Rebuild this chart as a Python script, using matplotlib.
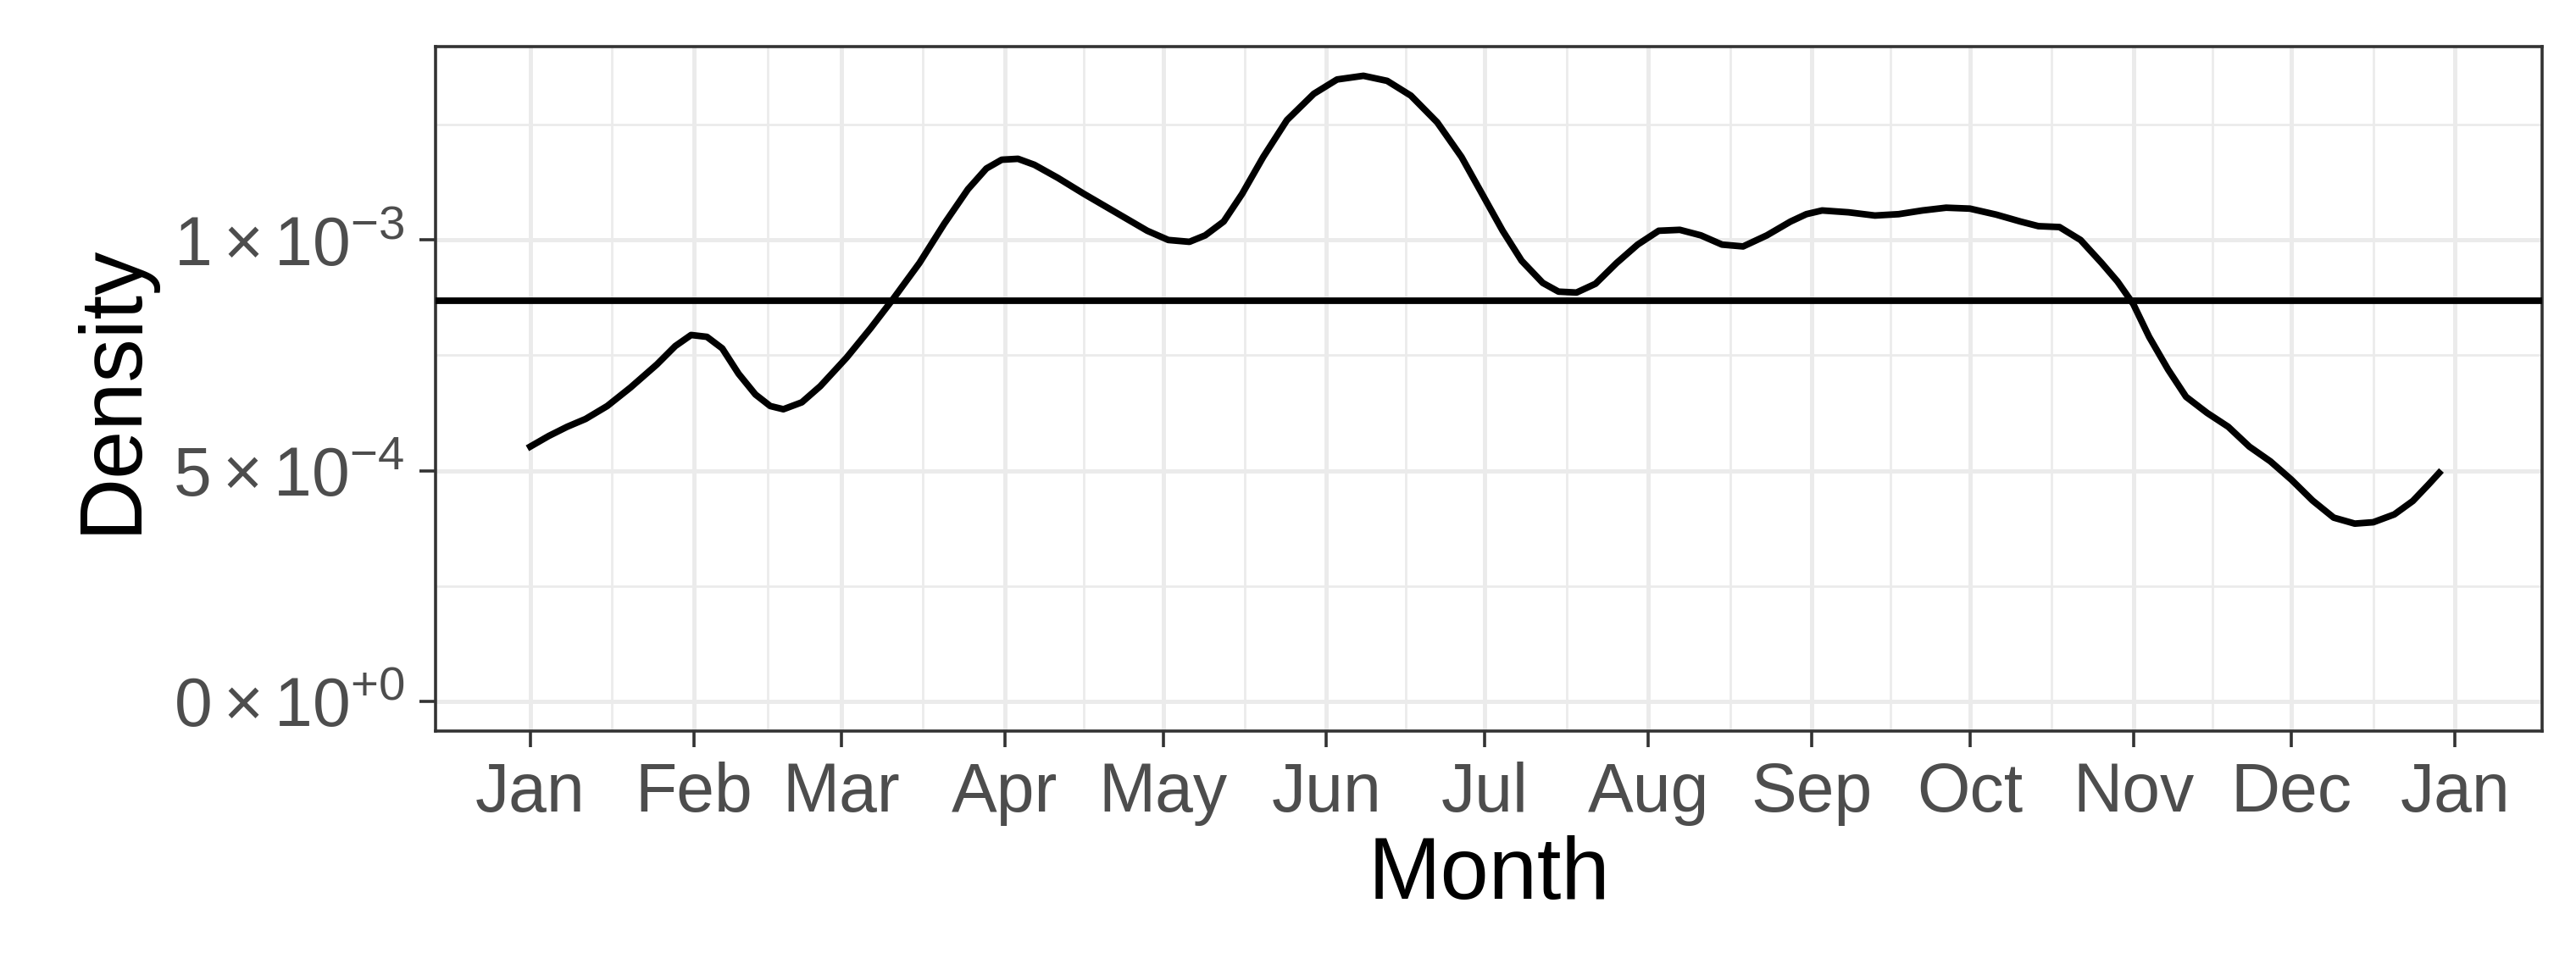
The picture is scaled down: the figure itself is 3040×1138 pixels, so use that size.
import numpy as np
import matplotlib.pyplot as plt

plt.rcParams['font.family'] = ['Liberation Sans', 'DejaVu Sans']
plt.rcParams['mathtext.fontset'] = 'custom'
plt.rcParams['mathtext.rm'] = 'Liberation Sans'
plt.rcParams['mathtext.it'] = 'Liberation Sans'

# month starts (day of year) and labels
month_days = [0, 31, 59, 90, 120, 151, 181, 212, 243, 273, 304, 334, 365]
month_labels = ['Jan', 'Feb', 'Mar', 'Apr', 'May', 'Jun', 'Jul', 'Aug', 'Sep',
                'Oct', 'Nov', 'Dec', 'Jan']

# density curve (day of year, density in 1e-3)
day = [0, 3.5, 7, 10.5, 14.6, 19, 24, 27.5, 30.5, 33.5, 36.4, 39.5, 42.7, 45.5,
       48, 51.5, 55, 60, 64.5, 69, 73.8, 78.5, 83, 86.5, 89.4, 92.5, 95.6, 100,
       105, 111, 117, 121, 125, 128, 131.5, 135, 139, 143.5, 148.6, 153, 158,
       162.5, 167, 172, 176.6, 180.5, 184.4, 188, 192, 195, 198.4, 202, 206,
       210, 214, 218, 222, 226, 230, 234.5, 239, 242, 245, 250, 255, 259.5, 264,
       268.5, 273, 278, 282.6, 286, 290, 294, 298, 301, 304, 307, 310.6, 314,
       318, 322, 326, 330, 334, 338, 342, 346, 349.5, 353.5, 357, 360, 362]
dens = [0.552, 0.575, 0.595, 0.612, 0.64, 0.68, 0.73, 0.77, 0.794, 0.79, 0.765,
        0.71, 0.665, 0.64, 0.633, 0.648, 0.683, 0.745, 0.808, 0.875, 0.95, 1.035,
        1.11, 1.155, 1.174, 1.176, 1.163, 1.135, 1.10, 1.06, 1.02, 1.0, 0.996,
        1.01, 1.04, 1.1, 1.18, 1.26, 1.317, 1.348, 1.356, 1.345, 1.313, 1.255,
        1.18, 1.10, 1.02, 0.955, 0.907, 0.888, 0.886, 0.905, 0.95, 0.99, 1.02,
        1.022, 1.01, 0.99, 0.986, 1.01, 1.04, 1.056, 1.064, 1.06, 1.053, 1.056,
        1.064, 1.07, 1.068, 1.055, 1.04, 1.03, 1.028, 1.0, 0.95, 0.91, 0.861,
        0.79, 0.719, 0.66, 0.625, 0.595, 0.552, 0.52, 0.48, 0.435, 0.398, 0.385,
        0.388, 0.405, 0.434, 0.47, 0.495]
uniform = 0.868  # reference line, 1e-3

fig = plt.figure(figsize=(15.2, 5.69), dpi=200)
ax = fig.add_axes([0.169, 0.242, 0.818, 0.71])

ax.plot(day, np.array(dens) * 1e-3, color='black', lw=2.8, zorder=3)
ax.axhline(uniform * 1e-3, color='black', lw=2.8, zorder=3)

ax.set_xlim(-18, 381.6)
ax.set_ylim(-0.064e-3, 1.42e-3)

ax.set_xticks(month_days)
ax.set_xticklabels(month_labels)
ax.set_xticks([(a + b) / 2 for a, b in zip(month_days[:-1], month_days[1:])], minor=True)
ax.set_yticks([0, 5e-4, 1e-3])
ax.set_yticklabels([r'$0\times10^{+0}$', r'$5\times10^{-4}$', r'$1\times10^{-3}$'])
ax.set_yticks([2.5e-4, 7.5e-4, 1.25e-3], minor=True)

ax.grid(which='major', color='#EBEBEB', lw=1.8, zorder=0)
ax.grid(which='minor', color='#EBEBEB', lw=1.0, zorder=0)
ax.set_axisbelow(True)
for s in ax.spines.values():
    s.set_color('#333333')
    s.set_linewidth(1.3)
ax.tick_params(which='major', length=7, width=1.3, color='#333333',
               labelsize=29, labelcolor='#4D4D4D', pad=6)
ax.tick_params(which='minor', length=0)

ax.set_xlabel('Month', fontsize=37, labelpad=4)
ax.set_ylabel('Density', fontsize=37, labelpad=8)

fig.savefig('out.png', dpi=200, facecolor='white')
